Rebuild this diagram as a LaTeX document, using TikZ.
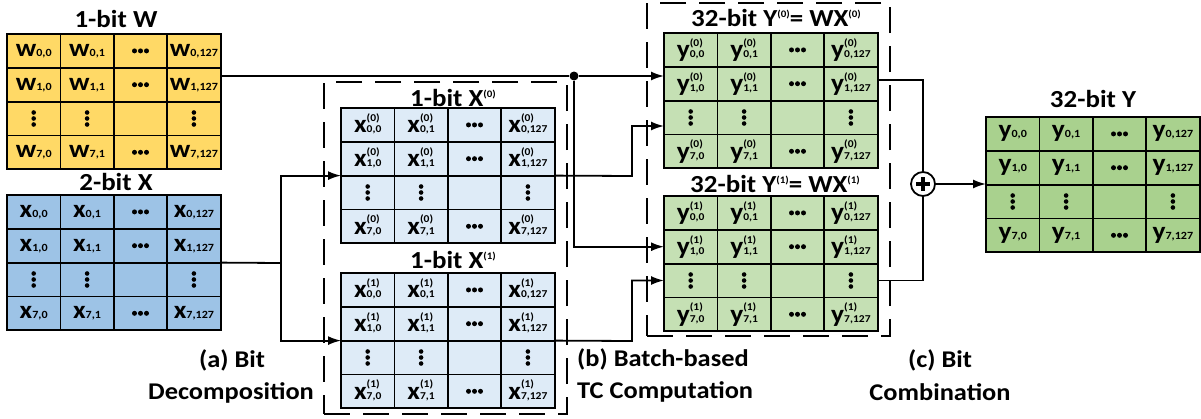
\documentclass[tikz,border=0pt]{standalone}
\usepackage{fontspec}
\setmainfont{Carlito}[FakeStretch=1.1]
\usetikzlibrary{arrows.meta}
\definecolor{wfill}{HTML}{FFD966}
\definecolor{xfill}{HTML}{9DC3E6}
\definecolor{xbfill}{HTML}{DEEBF7}
\definecolor{ybfill}{HTML}{C5E0B4}
\definecolor{yfill}{HTML}{A9D18E}
\newcommand\ent[3]{{\fontsize{25}{25}\selectfont #1}%
  \if\relax\detokenize{#2}\relax{\fontsize{11}{11}\selectfont #3}%
  \else{\fontsize{10.5}{11.5}\selectfont\begin{tabular}[b]{@{}l@{}}#2\\#3\end{tabular}}\fi}
\newcommand\sps[1]{\raisebox{9pt}{\fontsize{10}{10}\selectfont #1}}
\tikzset{
  cell/.style={draw, line width=1.8pt, minimum width=53.4pt, minimum height=33.8pt,
    inner sep=0pt, outer sep=0pt, font=\bfseries},
  conn/.style={line width=1.8pt},
  arr/.style={conn, -{Latex[length=13pt,width=9pt]}},
  dbox/.style={draw, line width=1.8pt, dash pattern=on 26pt off 13pt, inner sep=0pt, outer sep=0pt},
  title/.style={font=\bfseries\fontsize{24.5}{24.5}\selectfont, anchor=base, inner sep=0pt},
  lab/.style={font=\bfseries\fontsize{24}{24}\selectfont, anchor=base, inner sep=0pt},
}
\newcommand\mkmat[6]{%
  \foreach \r/\ri in {0/0,1/1,3/7}{%
    \foreach \c/\ci in {0/0,1/1,3/127}{%
      \node[cell,fill=#4] (#1-\r-\c) at ({#2+(\c+0.5)*53.4},{#3+(\r+0.5)*33.8}) {\ent{#5}{#6}{\ri,\ci}};}
    \node[cell,fill=#4] (#1-\r-2) at ({#2+2.5*53.4},{#3+(\r+0.5)*33.8}) {};
    \foreach \d in {-6,0,6} \fill ([xshift=\d pt]#1-\r-2.center) circle (2.5pt);
  }
  \foreach \c in {0,1,2,3}{\node[cell,fill=#4] (#1-2-\c) at ({#2+(\c+0.5)*53.4},{#3+2.5*33.8}) {};}
  \foreach \c in {0,1,3}{\foreach \d in {-6,0,6} \fill ([yshift=\d pt]#1-2-\c.center) circle (2.3pt);}
}
\begin{document}
\begin{tikzpicture}[x=1pt,y=-1pt]
\useasboundingbox (0,0) rectangle (1201,418);
% dashed group boxes
\node[dbox, minimum width=243pt, minimum height=332pt] (boxX) at (445.5,248) {};
\node[dbox, minimum width=243pt, minimum height=333pt] (boxY) at (768.5,169.5) {};
% matrices
\mkmat{W}{7}{34}{wfill}{w}{}
\mkmat{X}{7}{195}{xfill}{x}{}
\mkmat{XA}{341}{108}{xbfill}{x}{(0)}
\mkmat{XB}{341}{273}{xbfill}{x}{(1)}
\mkmat{YA}{664}{33}{ybfill}{y}{(0)}
\mkmat{YB}{664}{196}{ybfill}{y}{(1)}
\mkmat{Y}{986}{117}{yfill}{y}{}
% titles
\node[title] (tW) at (116,27) {1-bit W};
\node[title] (tX) at (116,190) {2-bit X};
\node[title] (tXA) at (453,106) {1-bit X\sps{(0)}};
\node[title] (tXB) at (453,268) {1-bit X\sps{(1)}};
\node[title] (tYA) at (776,26) {32-bit Y\sps{(0)}= WX\sps{(0)}};
\node[title] (tYB) at (775,192) {32-bit Y\sps{(1)}= WX\sps{(1)}};
\node[title] (tY) at (1093,107) {32-bit Y};
% captions
\node[lab] (la1) at (232,367) {(a) Bit};
\node[lab] (la2) at (231,399) {Decomposition};
\node[lab, anchor=base west] (lb1) at (577,366) {(b) Batch-based};
\node[lab, anchor=base west] (lb2) at (577,398) {TC Computation};
\node[lab] (lc1) at (940,367) {(c) Bit};
\node[lab] (lc2) at (940,400) {Combination};
% connectors
\node[circle, fill, inner sep=0pt, minimum size=9pt] (dot) at (574,76) {};
\draw[conn] (W-1-3.east |- dot) -- (dot);
\draw[arr] (dot) -- (dot -| YA-1-0.west);
\draw[arr] (dot) |- (YB-1-0.west);
\coordinate (fx) at (281,263);
\draw[conn] (X-1-3.south east) -- (fx);
\draw[arr] (fx) |- (XA-1-0.south west);
\draw[arr] (fx) |- (XB-1-0.south west);
\coordinate (b0) at (632,176);
\coordinate (y0in) at (664,126);
\draw[arr] (XA-1-3.south east) -- (b0) |- (y0in);
\coordinate (b1) at (632,341);
\draw[arr] (XB-1-3.south east) -- (b1) |- (YB-2-0.west);
\node[circle, draw, line width=1.8pt, minimum size=24pt, inner sep=0pt] (plus) at (923,184) {};
\draw[line width=3.6pt] ([xshift=-7pt]plus.center) -- ([xshift=7pt]plus.center);
\draw[line width=3.6pt] ([yshift=-7pt]plus.center) -- ([yshift=7pt]plus.center);
\draw[conn] ([yshift=4pt]YA-1-3.east) -| (plus.north);
\draw[conn] (YB-2-3.east) -| (plus.south);
\draw[arr] (plus) -- (plus -| Y-1-0.west);
\end{tikzpicture}
\end{document}
